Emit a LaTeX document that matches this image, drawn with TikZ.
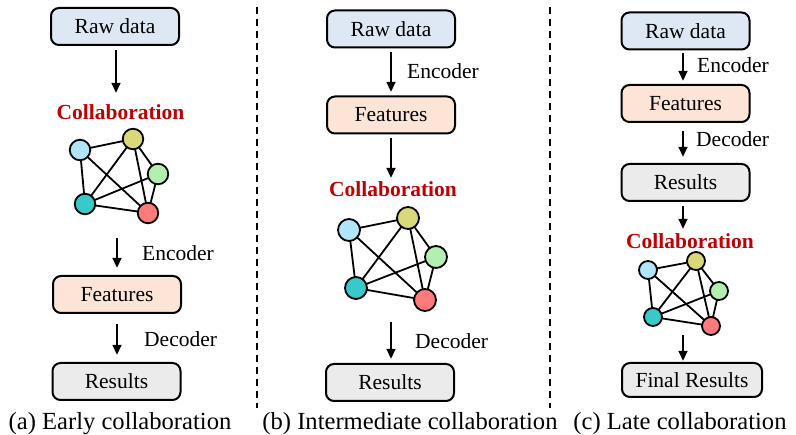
\documentclass[tikz,border=0pt]{standalone}
\usepackage{fontspec}
\setmainfont{Liberation Serif}
\usetikzlibrary{arrows.meta,backgrounds}
\definecolor{rawfill}{HTML}{DEE8F4}
\definecolor{featfill}{HTML}{FCE4D6}
\definecolor{resfill}{HTML}{EBEBEB}
\definecolor{collred}{HTML}{C00000}
\definecolor{nblue}{HTML}{B0E4F8}
\definecolor{nyellow}{HTML}{D9D97A}
\definecolor{ngreen}{HTML}{B2EFB0}
\definecolor{nteal}{HTML}{38C9C9}
\definecolor{nred}{HTML}{FF7B7B}
\tikzset{
  box/.style={draw=black, line width=2pt, rounded corners=8pt, minimum width=128pt, minimum height=37pt, inner sep=0pt, font=\rmfamily\fontsize{21.5}{24}\selectfont},
  lbl/.style={anchor=base west, inner sep=0pt, font=\rmfamily\fontsize{21.5}{24}\selectfont},
  colltxt/.style={anchor=base, inner sep=0pt, text=collred, font=\rmfamily\fontsize{21.5}{24}\selectfont\bfseries},
  captxt/.style={anchor=base, inner sep=0pt, font=\rmfamily\fontsize{24.6}{28}\selectfont},
  arr/.style={line width=2.8pt, -{Triangle[length=10pt,width=8.5pt]}},
  gn/.style={circle, draw=black, line width=1.8pt, inner sep=0pt, minimum size=#1},
  ge/.style={line width=1.8pt},
  sep/.style={line width=2.6pt, dash pattern=on 7.5pt off 4.5pt}
}
\begin{document}
\begin{tikzpicture}[x=1pt,y=-1pt]
\useasboundingbox (0,0) rectangle (796,435);
% separators
\coordinate (s1t) at (257,7); \coordinate (s1b) at (257,408);
\coordinate (s2t) at (550,7); \coordinate (s2b) at (550,408);
\draw[sep] (s1t) -- (s1b);
\draw[sep] (s2t) -- (s2b);

% ---------- (a) ----------
\node[box, fill=rawfill] (rawa) at (115,26.5) {Raw data};
\node[colltxt] (colla) at (120.5,120) {Collaboration};
\node[gn=20.5pt, fill=nblue]   (ab) at (80,150) {};
\node[gn=20.5pt, fill=nyellow] (ay) at (133,139) {};
\node[gn=20.5pt, fill=ngreen]  (ag) at (158,174) {};
\node[gn=20.5pt, fill=nteal]   (at) at (85,204) {};
\node[gn=20.5pt, fill=nred]    (ar) at (148,213) {};
\node[box, fill=featfill] (feata) at (117,294.5) {Features};
\node[box, fill=resfill] (resa) at (116.5,381.5) {Results};
\node[lbl] (enca) at (142,261) {Encoder};
\node[lbl] (deca) at (144,347) {Decoder};
\node[captxt] (capa) at (120,430) {(a) Early collaboration};
\coordinate (a1) at (116,50); \coordinate (a1e) at (116,93);
\coordinate (a2) at (117,238); \coordinate (a2e) at (117,268);
\coordinate (a3) at (117,324); \coordinate (a3e) at (117,355);
\draw[arr] (a1) -- (a1e);
\draw[arr] (a2) -- (a2e);
\draw[arr] (a3) -- (a3e);

% ---------- (b) ----------
\node[box, fill=rawfill] (rawb) at (391,29) {Raw data};
\node[box, fill=featfill] (featb) at (391,115) {Features};
\node[colltxt] (collb) at (393,197) {Collaboration};
\node[gn=22pt, fill=nblue]   (bb) at (349,230) {};
\node[gn=22pt, fill=nyellow] (by) at (408,218) {};
\node[gn=22pt, fill=ngreen]  (bg) at (436,257) {};
\node[gn=22pt, fill=nteal]   (bt) at (356,288) {};
\node[gn=22pt, fill=nred]    (br) at (425,300) {};
\node[box, fill=resfill] (resb) at (390,382.5) {Results};
\node[lbl] (encb) at (407,79) {Encoder};
\node[lbl] (decb) at (415,349) {Decoder};
\node[captxt] (capb) at (410,430) {(b) Intermediate collaboration};
\coordinate (b1) at (391,52); \coordinate (b1e) at (391,92);
\coordinate (b2) at (391,138); \coordinate (b2e) at (391,178);
\coordinate (b3) at (391,322); \coordinate (b3e) at (391,359);
\draw[arr] (b1) -- (b1e);
\draw[arr] (b2) -- (b2e);
\draw[arr] (b3) -- (b3e);

% ---------- (c) ----------
\node[box, fill=rawfill] (rawc) at (685.5,31) {Raw data};
\node[box, fill=featfill] (featc) at (685.5,103.5) {Features};
\node[box, fill=resfill] (resc) at (685.5,182.5) {Results};
\node[colltxt] (collc) at (690,249) {Collaboration};
\node[gn=18pt, fill=nblue]   (cb) at (648,270) {};
\node[gn=18pt, fill=nyellow] (cy) at (696,261) {};
\node[gn=18pt, fill=ngreen]  (cg) at (719,291) {};
\node[gn=18pt, fill=nteal]   (ct) at (653,317) {};
\node[gn=18pt, fill=nred]    (cr) at (711,326) {};
\node[box, fill=resfill, minimum width=140pt, minimum height=34pt] (finc) at (692,380) {Final Results};
\node[lbl] (encc) at (697,73) {Encoder};
\node[lbl] (decc) at (696,147) {Decoder};
\node[captxt] (capc) at (680,430) {(c) Late collaboration};
\coordinate (c1) at (683,53); \coordinate (c1e) at (683,81);
\coordinate (c2) at (683,131); \coordinate (c2e) at (683,157);
\coordinate (c3) at (683,206); \coordinate (c3e) at (683,229);
\coordinate (c4) at (683,335); \coordinate (c4e) at (683,361);
\draw[arr] (c1) -- (c1e);
\draw[arr] (c2) -- (c2e);
\draw[arr] (c3) -- (c3e);
\draw[arr] (c4) -- (c4e);

% graph edges on background layer
\begin{scope}[on background layer]
\foreach \p in {a,b,c}{
  \draw[ge] (\p b.center) -- (\p y.center);
  \draw[ge] (\p b.center) -- (\p t.center);
  \draw[ge] (\p b.center) -- (\p r.center);
  \draw[ge] (\p y.center) -- (\p t.center);
  \draw[ge] (\p y.center) -- (\p r.center);
  \draw[ge] (\p y.center) -- (\p g.center);
  \draw[ge] (\p g.center) -- (\p t.center);
  \draw[ge] (\p g.center) -- (\p r.center);
  \draw[ge] (\p t.center) -- (\p r.center);
}
\end{scope}
\end{tikzpicture}
\end{document}
